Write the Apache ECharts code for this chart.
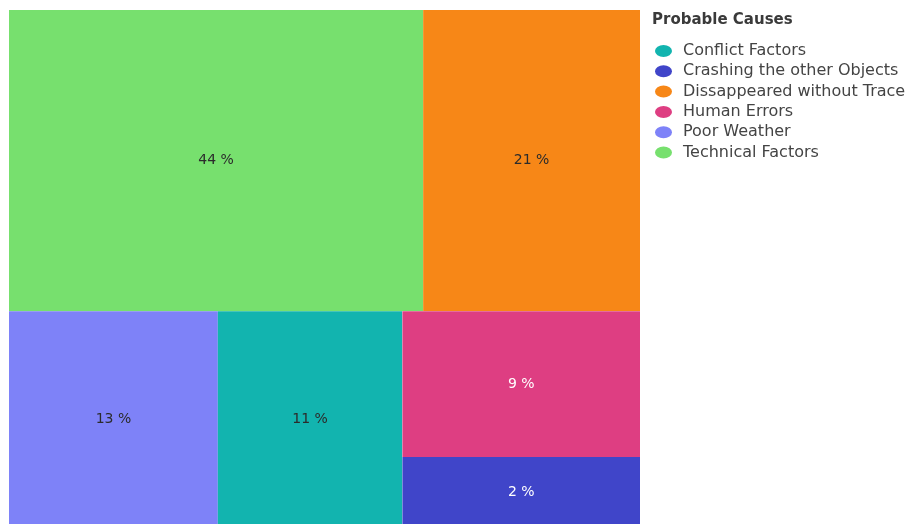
<!DOCTYPE html>
<html>
<head>
<meta charset="utf-8">
<script src="https://cdn.jsdelivr.net/npm/echarts@6/dist/echarts.min.js"></script>
<style>
html,body{margin:0;padding:0;background:#fff;}
#chart{width:912px;height:524px;}
</style>
</head>
<body>
<div id="chart"></div>
<script>
// Legend order (alphabetical, as in the reference legend)
const legendCauses = ['Conflict Factors', 'Crashing the other Objects', 'Dissappeared without Trace', 'Human Errors', 'Poor Weather', 'Technical Factors'];

// Tiles, in drawing order
const causes = ['Technical Factors', 'Dissappeared without Trace', 'Poor Weather', 'Conflict Factors', 'Human Errors', 'Crashing the other Objects'];
// Percent labels printed on the tiles
const percents = [44, 21, 13, 11, 9, 2];
// Relative tile areas
const tileSizes = [38.2, 20.0, 13.8, 12.2, 10.6, 5.1];
// Grouping of the tiles (top row / bottom row / right stack)
const tileGroup = ['top', 'top', 'bottom', 'bottom', 'right', 'right'];

const palette = {
  'Technical Factors': '#77E06E',
  'Dissappeared without Trace': '#F78717',
  'Poor Weather': '#7E82F8',
  'Conflict Factors': '#12B4AF',
  'Human Errors': '#DE3E82',
  'Crashing the other Objects': '#4045C9'
};
const darkText = ['Technical Factors', 'Dissappeared without Trace', 'Poor Weather', 'Conflict Factors'];

function leaf(i) {
  const dark = darkText.indexOf(causes[i]) >= 0;
  return {
    name: causes[i],
    value: tileSizes[i],
    itemStyle: { color: palette[causes[i]] },
    label: { formatter: percents[i] + ' %', color: dark ? '#2b2b2b' : '#ffffff' }
  };
}
const topNode = { name: 'top', children: [] };
const rightNode = { name: 'right', children: [] };
const bottomNode = { name: 'bottom', children: [] };
causes.forEach((c, i) => {
  if (tileGroup[i] === 'top') topNode.children.push(leaf(i));
  else if (tileGroup[i] === 'bottom') bottomNode.children.push(leaf(i));
  else rightNode.children.push(leaf(i));
});
bottomNode.children.push(rightNode);

const chart = echarts.init(document.getElementById('chart'), null, { renderer: 'canvas' });
chart.setOption({
  animation: false,
  backgroundColor: '#ffffff',
  title: {
    text: 'Probable Causes',
    left: 652,
    top: 13,
    padding: 0,
    textStyle: { fontFamily: 'DejaVu Sans', fontSize: 15, fontWeight: 'bold', color: '#3a3a3a' }
  },
  legend: {
    orient: 'vertical',
    left: 655,
    top: 43,
    padding: 0,
    data: legendCauses,
    icon: 'path://M50,0A50,50 0 1,1 50,100A50,50 0 1,1 50,0Z',
    symbolKeepAspect: false,
    itemWidth: 17,
    itemHeight: 12,
    itemGap: 4.3,
    textStyle: { fontFamily: 'DejaVu Sans', fontSize: 16, color: '#444444', padding: [0, 0, 0, 6] },
    selectedMode: false
  },
  series: [
    {
      type: 'pie',
      radius: [0, 0],
      center: [-100, -100],
      silent: true,
      label: { show: false },
      labelLine: { show: false },
      data: legendCauses.map(n => ({ name: n, value: 1, itemStyle: { color: palette[n] } }))
    },
    {
      type: 'treemap',
      left: 9,
      top: 10,
      width: 631,
      height: 517,
      sort: false,
      roam: false,
      nodeClick: false,
      breadcrumb: { show: false },
      label: {
        show: true,
        position: 'inside',
        fontFamily: 'DejaVu Sans',
        fontSize: 14,
        align: 'center',
        verticalAlign: 'middle'
      },
      upperLabel: { show: false },
      itemStyle: { borderWidth: 0, gapWidth: 0 },
      levels: [
        { itemStyle: { borderWidth: 0, gapWidth: 0 } },
        { itemStyle: { borderWidth: 0, gapWidth: 0 } },
        { itemStyle: { borderWidth: 0, gapWidth: 0 } },
        { itemStyle: { borderWidth: 0, gapWidth: 0 } }
      ],
      data: [topNode, bottomNode]
    }
  ]
});
</script>
</body>
</html>
